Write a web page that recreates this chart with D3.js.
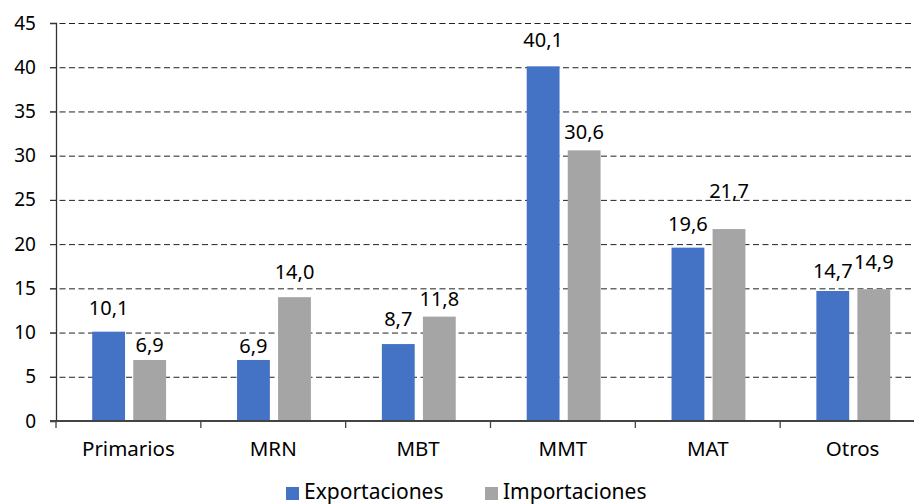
<!DOCTYPE html>
<html>
<head>
<meta charset="utf-8">
<script src="https://cdn.jsdelivr.net/npm/d3@7"></script>
<style>
  body { margin: 0; background: #fff; }
  svg { display: block; font-family: "Noto Sans", sans-serif; }
</style>
</head>
<body>
<svg id="chart" width="914" height="504"></svg>
<script>
var categories = ['Primarios', 'MRN', 'MBT', 'MMT', 'MAT', 'Otros'];
var exportaciones = [10.1, 6.9, 8.7, 40.1, 19.6, 14.7];
var importaciones = [6.9, 14.0, 11.8, 30.6, 21.7, 14.9];
var seriesNames = ['Exportaciones', 'Importaciones'];
var yTicks = [0, 5, 10, 15, 20, 25, 30, 35, 40, 45];

// layout only: how far each value label sits above its bar (px)
var labelGap = [[17, 7, 18, 19, 17, 13], [8, 18, 11, 11, 31, 20]];

var colors = ['#4472c4', '#a5a5a5'];
var svg = d3.select('#chart');

var x0 = d3.scaleBand().domain(categories).range([56, 925]);
var x1 = d3.scaleBand().domain(seriesNames)
    .range([x0.bandwidth() * 0.25, x0.bandwidth() * 0.76])
    .paddingInner(0.2);
var y = d3.scaleLinear().domain([0, 45]).range([421, 23]);

// gridlines
svg.append('g').selectAll('line')
    .data(yTicks.filter(function(d) { return d > 0; }))
  .enter().append('line')
    .attr('x1', 50).attr('x2', 914)
    .attr('y1', function(d) { return y(d) + 0.5; })
    .attr('y2', function(d) { return y(d) + 0.5; })
    .attr('stroke', '#222')
    .attr('stroke-width', 1)
    .attr('stroke-dasharray', '6,3.5');

// bars
var data = categories.map(function(c, i) {
    return { cat: c, values: [exportaciones[i], importaciones[i]], idx: i };
});

var groups = svg.append('g').selectAll('g')
    .data(data)
  .enter().append('g')
    .attr('transform', function(d) { return 'translate(' + x0(d.cat) + ',0)'; });

groups.selectAll('rect')
    .data(function(d) { return d.values.map(function(v, s) { return { v: v, s: s, i: d.idx }; }); })
  .enter().append('rect')
    .attr('x', function(d) { return x1(seriesNames[d.s]); })
    .attr('width', x1.bandwidth())
    .attr('y', function(d) { return y(d.v); })
    .attr('height', function(d) { return y(0) - y(d.v); })
    .attr('fill', function(d) { return colors[d.s]; });

groups.selectAll('text')
    .data(function(d) { return d.values.map(function(v, s) { return { v: v, s: s, i: d.idx }; }); })
  .enter().append('text')
    .attr('x', function(d) { return x1(seriesNames[d.s]) + x1.bandwidth() / 2; })
    .attr('y', function(d) { return y(d.v) - labelGap[d.s][d.i]; })
    .attr('text-anchor', 'middle')
    .attr('font-size', 20)
    .attr('fill', '#000')
    .text(function(d) { return d.v.toFixed(1).replace('.', ','); });

// y axis
var yAxis = svg.append('g')
    .attr('transform', 'translate(56,0)')
    .call(d3.axisLeft(y).tickValues(yTicks).tickSize(6).tickPadding(14));
yAxis.select('.domain').attr('stroke', '#333').attr('stroke-width', 1.3);
yAxis.selectAll('.tick line').attr('stroke', '#333');
yAxis.selectAll('text').attr('font-size', 19).attr('fill', '#000')
    .attr('font-family', '"Noto Sans", sans-serif');

// x axis
var xAxis = svg.append('g')
    .attr('transform', 'translate(0,421)');
xAxis.append('line')
    .attr('x1', 50).attr('x2', 914)
    .attr('stroke', '#444').attr('stroke-width', 2);
xAxis.selectAll('.tickmark')
    .data(categories)
  .enter().append('line')
    .attr('x1', function(d) { return x0(d); })
    .attr('x2', function(d) { return x0(d); })
    .attr('y1', 0).attr('y2', 7)
    .attr('stroke', '#444').attr('stroke-width', 1.3);
xAxis.selectAll('.catlabel')
    .data(categories)
  .enter().append('text')
    .attr('x', function(d) { return x0(d) + x0.bandwidth() / 2; })
    .attr('y', 35)
    .attr('text-anchor', 'middle')
    .attr('font-size', 20.5)
    .text(function(d) { return d; });

// legend
var legend = svg.append('g');
var legendX = [286, 485];
seriesNames.forEach(function(name, i) {
    legend.append('rect')
        .attr('x', legendX[i]).attr('y', 487)
        .attr('width', 13).attr('height', 13)
        .attr('fill', colors[i]);
    legend.append('text')
        .attr('x', legendX[i] + 18).attr('y', 499)
        .attr('font-size', 21)
        .text(name);
});
</script>
</body>
</html>
